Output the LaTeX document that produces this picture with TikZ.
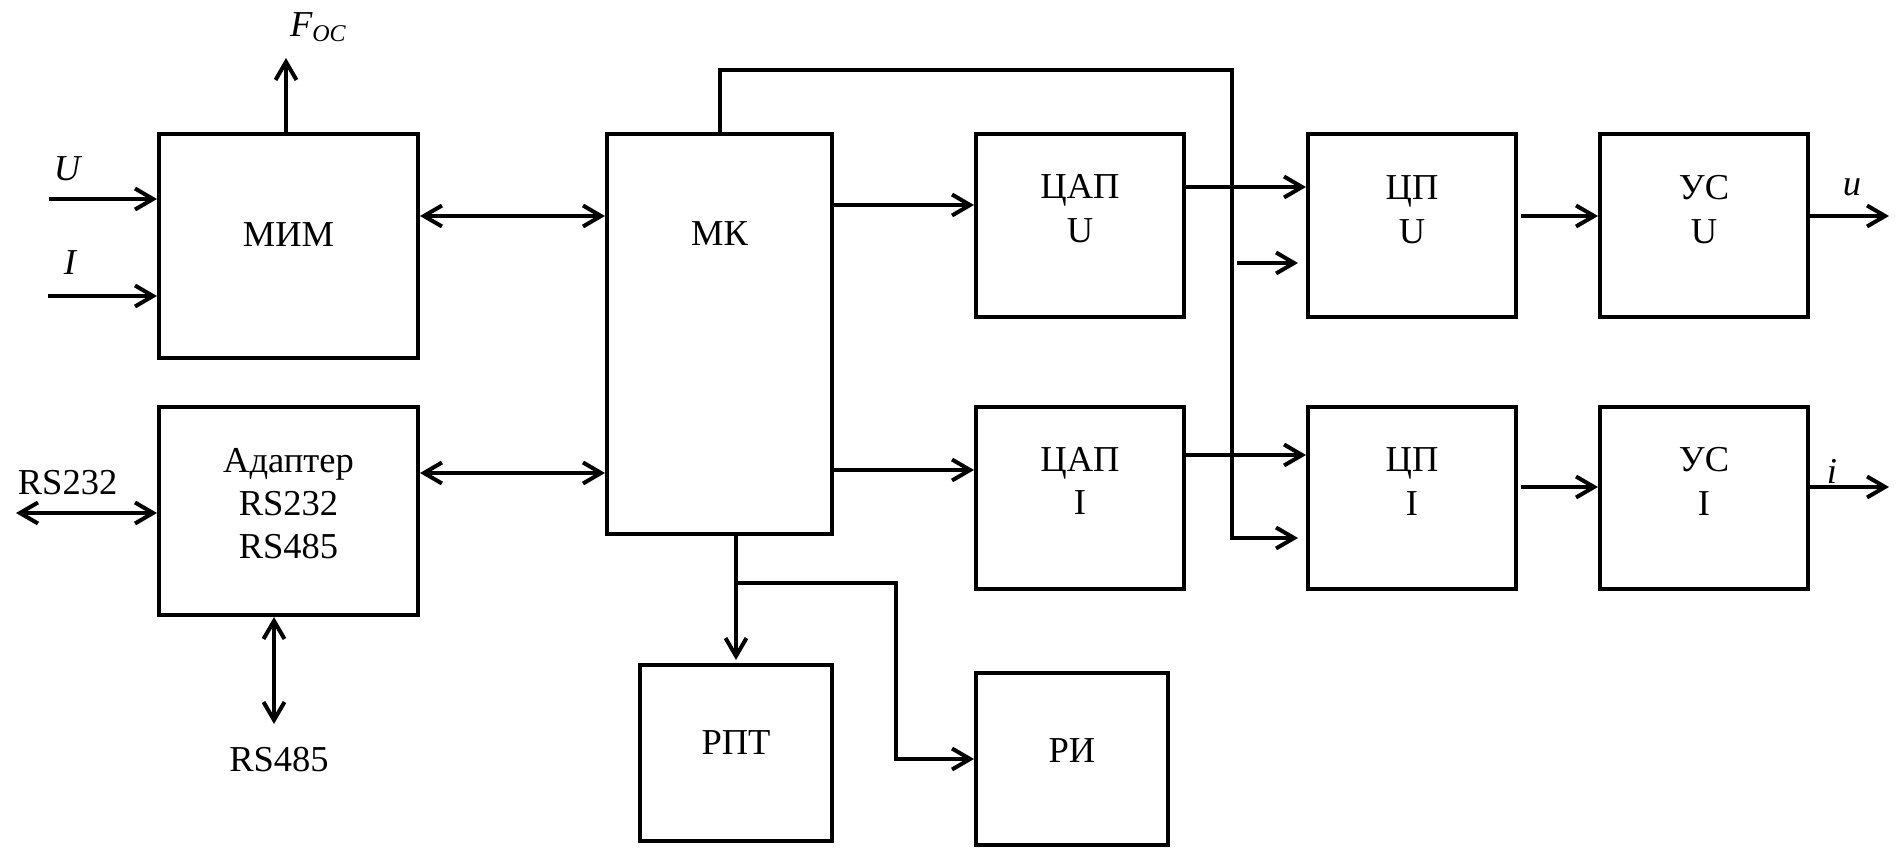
\documentclass[tikz,border=0pt]{standalone}
\usepackage{fontspec}
\setmainfont{Liberation Serif}
\usetikzlibrary{arrows.meta}
\begin{document}
\begin{tikzpicture}[x=1pt,y=-1pt,line width=4pt,
  >={Straight Barb[length=18pt,width=21pt]},
  blk/.style={draw,line width=4pt,inner sep=0pt,fill=white},
  txt/.style={font=\fontsize{36.5}{43}\selectfont,inner sep=0pt,anchor=base},
  itxt/.style={font=\fontsize{36.5}{43}\selectfont\itshape,inner sep=0pt,anchor=base}]
\useasboundingbox (0,0) rectangle (1899,848);
% blocks
\node[blk,minimum width=259pt,minimum height=224pt] (mim) at (288.5,246) {};
\node[blk,minimum width=259pt,minimum height=208pt] (adp) at (288.5,511) {};
\node[blk,minimum width=225pt,minimum height=400pt] (mk) at (719.5,334) {};
\node[blk,minimum width=208pt,minimum height=183pt] (dacu) at (1080,225.5) {};
\node[blk,minimum width=208pt,minimum height=182pt] (daci) at (1080,498) {};
\node[blk,minimum width=208pt,minimum height=183pt] (cpu) at (1412,225.5) {};
\node[blk,minimum width=208pt,minimum height=182pt] (cpi) at (1412,498) {};
\node[blk,minimum width=208pt,minimum height=183pt] (usu) at (1704,225.5) {};
\node[blk,minimum width=208pt,minimum height=182pt] (usi) at (1704,498) {};
\node[blk,minimum width=192pt,minimum height=176pt] (rpt) at (736,753) {};
\node[blk,minimum width=192pt,minimum height=172pt] (ri) at (1072,759) {};
% block texts
\node[txt] (tmim) at (288.5,246) {МИМ};
\node[txt] (tmk) at (719.5,245) {МК};
\node[txt] (tadp1) at (288.5,472.7) {Адаптер};
\node[txt] (tadp2) at (288.5,515.5) {RS232};
\node[txt] (tadp3) at (288.5,558.3) {RS485};
\node[txt] (tdacu1) at (1080,199) {ЦАП};
\node[txt] (tdacu2) at (1080,242.5) {U};
\node[txt] (tdaci1) at (1080,471.6) {ЦАП};
\node[txt] (tdaci2) at (1080,514.5) {I};
\node[txt] (tcpu1) at (1412,200) {ЦП};
\node[txt] (tcpu2) at (1412,243.5) {U};
\node[txt] (tcpi1) at (1412,471.7) {ЦП};
\node[txt] (tcpi2) at (1412,515) {I};
\node[txt] (tusu1) at (1704,200) {УС};
\node[txt] (tusu2) at (1704,243.5) {U};
\node[txt] (tusi1) at (1704,471.7) {УС};
\node[txt] (tusi2) at (1704,515) {I};
\node[txt] (trpt) at (736,754) {РПТ};
\node[txt] (tri) at (1072,762) {РИ};
% outer labels
\node[itxt] (lu) at (67,180) {U};
\node[itxt] (li) at (70,274) {I};
\node[itxt] (lout1) at (1852,196) {u};
\node[itxt] (lout2) at (1832,483) {i};
\node[txt] (lrs232) at (67.6,494) {RS232};
\node[txt] (lrs485) at (279,771.7) {RS485};
\node[itxt,anchor=base west] (lfoc) at (288,36.5) {F\raisebox{-5pt}{\fontsize{24}{24}\selectfont\itshape OC}};
% helper coordinates
\coordinate (focend) at (286,58);
\coordinate (uin) at (49,199);
\coordinate (iin) at (48,296);
\coordinate (mimmk) at (0,216);
\coordinate (adpmk) at (0,473);
\coordinate (rs232end) at (16,513);
\coordinate (rs485end) at (274,724);
\coordinate (mkdu) at (0,205);
\coordinate (mkdi) at (0,470);
\coordinate (ducu) at (0,187);
\coordinate (dici) at (0,455);
\coordinate (cuus) at (0,216);
\coordinate (cius) at (0,487);
\coordinate (uout) at (1889,216);
\coordinate (iout) at (1889,487);
\coordinate (fbtop) at (0,70.5);
\coordinate (fbx) at (1231.5,0);
\coordinate (fbbot) at (0,538);
\coordinate (fb2) at (1237,263);
\coordinate (br) at (0,582.5);
\coordinate (brx) at (896,0);
% connectors
\draw[->] (focend |- mim.north) -- (focend);
\draw[->] (uin) -- (uin -| mim.west);
\draw[->] (iin) -- (iin -| mim.west);
\draw[<->] (mimmk -| mim.east) -- (mimmk -| mk.west);
\draw[<->] (adpmk -| adp.east) -- (adpmk -| mk.west);
\draw[<->] (rs232end) -- (rs232end -| adp.west);
\draw[<->] (rs485end |- adp.south) -- (rs485end);
\draw[->] (mkdu -| mk.east) -- (mkdu -| dacu.west);
\draw[->] (mkdi -| mk.east) -- (mkdi -| daci.west);
\draw[->] (ducu -| dacu.east) -- (ducu -| cpu.west);
\draw[->] (dici -| daci.east) -- (dici -| cpi.west);
\draw[->,shorten <=3pt] (cuus -| cpu.east) -- (cuus -| usu.west);
\draw[->,shorten <=3pt] (cius -| cpi.east) -- (cius -| usi.west);
\draw[->] (uout -| usu.east) -- (uout);
\draw[->] (iout -| usi.east) -- (iout);
\draw[->,shorten >=8pt] (mk.north) |- (fbx |- fbtop) -- (fbx |- fbbot) -- (fbbot -| cpi.west);
\draw[->,shorten >=8pt] (fb2) -- (fb2 -| cpu.west);
\draw[->,shorten >=3pt] (rpt.north |- mk.south) -- (rpt.north);
\draw[->] (br -| rpt.north) -| (brx |- ri.west) -- (ri.west);
\end{tikzpicture}
\end{document}
